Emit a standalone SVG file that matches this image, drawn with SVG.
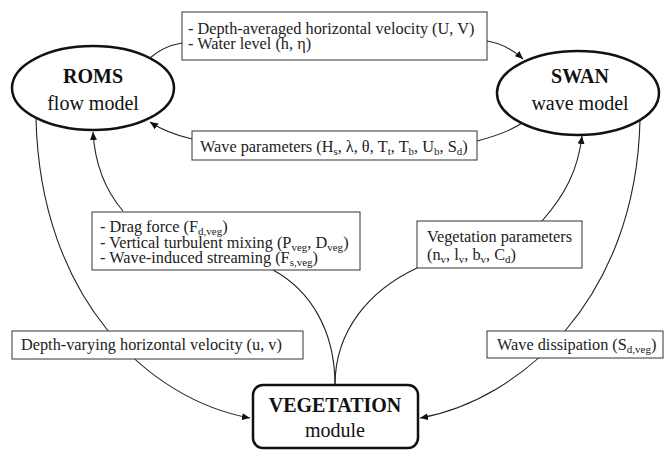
<svg xmlns="http://www.w3.org/2000/svg" width="665" height="450" viewBox="0 0 665 450" font-family="'Liberation Serif', serif">
<style>
text{font-family:'Liberation Serif',serif;}
.t{font-size:16.3px;fill:#222;}
.big{font-size:20px;fill:#111;}
.b{font-weight:bold;}
.sub{font-size:11px;}
.lbl{fill:#fff;stroke:#333;stroke-width:1;}
.node{fill:#fff;stroke:#111;stroke-width:2.5;}
.c{fill:none;stroke:#222;stroke-width:1.1;}
</style>
<defs>
<marker id="ah" markerUnits="userSpaceOnUse" markerWidth="9" markerHeight="7" refX="8" refY="3.5" orient="auto">
<path d="M0,0 L8,3.5 L0,7 z" fill="#111"/>
</marker>
</defs>
<rect width="665" height="450" fill="#fff"/>
<g id="connectors">
<path class="c" d="M150,58 C160,49 170,45 182,43"/>
<path class="c" d="M487,41 C500,43 512,49 523,59" marker-end="url(#ah)"/>
<path class="c" d="M522,123 C512,130 500,135 477,141"/>
<path class="c" d="M192,139 C175,135 162,130 150,122" marker-end="url(#ah)"/>
<path class="c" d="M123,211 C105,190 95,165 93,132" marker-end="url(#ah)"/>
<path class="c" d="M542,221 C565,195 578,170 582,136" marker-end="url(#ah)"/>
<path class="c" d="M36,118 C40,300 150,400 250,418" marker-end="url(#ah)"/>
<path class="c" d="M640,120 C636,300 520,400 420,418" marker-end="url(#ah)"/>
<path class="c" d="M335,385 C335,330 310,290 273,270"/>
<path class="c" d="M335,385 C335,330 370,290 417,268"/>
</g>
<g id="roms">
<ellipse class="node" cx="93" cy="88" rx="81" ry="42"/>
<text class="big b" x="93" y="83" text-anchor="middle">ROMS</text>
<text class="big" x="93" y="110" text-anchor="middle">flow model</text>
</g>
<g id="swan">
<ellipse class="node" cx="578" cy="93" rx="81" ry="42"/>
<text class="big b" x="580" y="83" text-anchor="middle">SWAN</text>
<text class="big" x="580" y="110" text-anchor="middle">wave model</text>
</g>
<g id="vegetation">
<rect class="node" x="253" y="385" width="165" height="63" rx="10"/>
<text class="big b" x="335" y="412" text-anchor="middle">VEGETATION</text>
<text class="big" x="335" y="437" text-anchor="middle">module</text>
</g>
<g id="label-velocity">
<rect class="lbl" x="182" y="12" width="305" height="48"/>
<text class="t" x="188" y="34">- Depth-averaged horizontal velocity (U, V)</text>
<text class="t" x="188" y="49">- Water level (h, η)</text>
</g>
<g id="label-wave">
<rect class="lbl" x="192" y="131" width="285" height="29"/>
<text class="t" x="200" y="152">Wave parameters (H<tspan class="sub" dy="3">s</tspan><tspan dy="-3">, λ, θ, T</tspan><tspan class="sub" dy="3">t</tspan><tspan dy="-3">, T</tspan><tspan class="sub" dy="3">b</tspan><tspan dy="-3">, U</tspan><tspan class="sub" dy="3">b</tspan><tspan dy="-3">, S</tspan><tspan class="sub" dy="3">d</tspan><tspan dy="-3">)</tspan></text>
</g>
<g id="label-drag">
<rect class="lbl" x="92" y="212" width="268" height="58"/>
<text class="t" x="100" y="232">- Drag force (F<tspan class="sub" dy="3">d,veg</tspan><tspan dy="-3">)</tspan></text>
<text class="t" x="100" y="248">- Vertical turbulent mixing (P<tspan class="sub" dy="3">veg</tspan><tspan dy="-3">, D</tspan><tspan class="sub" dy="3">veg</tspan><tspan dy="-3">)</tspan></text>
<text class="t" x="100" y="263">- Wave-induced streaming (F<tspan class="sub" dy="3">s,veg</tspan><tspan dy="-3">)</tspan></text>
</g>
<g id="label-vegparams">
<rect class="lbl" x="417" y="221" width="165" height="47"/>
<text class="t" x="427" y="242">Vegetation parameters</text>
<text class="t" x="427" y="260">(n<tspan class="sub" dy="3">v</tspan><tspan dy="-3">, l</tspan><tspan class="sub" dy="3">v</tspan><tspan dy="-3">, b</tspan><tspan class="sub" dy="3">v</tspan><tspan dy="-3">, C</tspan><tspan class="sub" dy="3">d</tspan><tspan dy="-3">)</tspan></text>
</g>
<g id="label-depthvarying">
<rect class="lbl" x="12" y="331" width="291" height="28"/>
<text class="t" x="21" y="350">Depth-varying horizontal velocity (u, v)</text>
</g>
<g id="label-dissipation">
<rect class="lbl" x="487" y="331" width="176" height="27"/>
<text class="t" x="497" y="350">Wave dissipation (S<tspan class="sub" dy="3">d,veg</tspan><tspan dy="-3">)</tspan></text>
</g>
</svg>
